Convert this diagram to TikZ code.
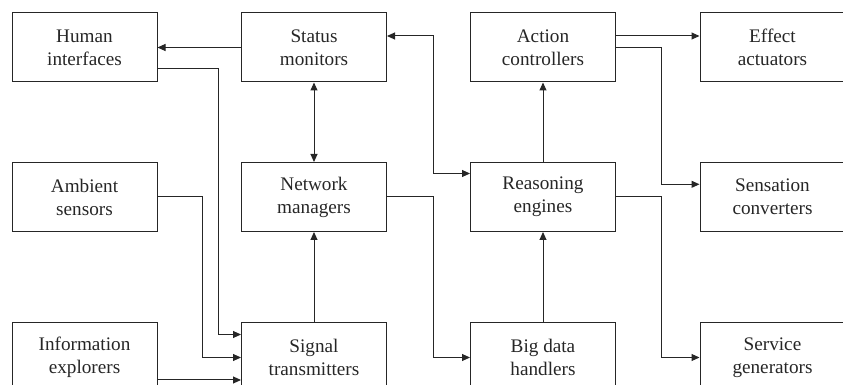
\documentclass[tikz,border=0pt]{standalone}
\usepackage{fontspec}
\setmainfont{Liberation Serif}
\usetikzlibrary{calc,arrows.meta}

\tikzset{
  unit/.style={draw=black!85,line width=0.5pt,minimum width=72.5pt,minimum height=34.5pt,
    inner sep=1pt,align=center,text=black!85,font=\fontsize{9.6}{11.5}\selectfont},
  link/.style={draw=black!85,line width=0.5pt,-{Triangle[length=4pt,width=3.5pt]}},
  dlink/.style={draw=black!85,line width=0.5pt,{Triangle[length=4pt,width=3.5pt]}-{Triangle[length=4pt,width=3.5pt]}}
}

\begin{document}
\begin{tikzpicture}[x=0.5pt,y=-0.5pt]
       \path[use as bounding box,clip](0,0)rectangle(843,385);%frame

       \node[unit](hum)at(84.5,47.5){Human\\interfaces};%row 1
       \node[unit](sta)at(314,47.5){Status\\monitors};
       \node[unit](act)at(543,47.5){Action\\controllers};
       \node[unit](eff)at(772.5,47.5){Effect\\actuators};

       \node[unit](amb)at(84.5,197){Ambient\\sensors};%row 2
       \node[unit](net)at(314,197){Network\\managers};
       \node[unit](rea)at(543,197){Reasoning\\engines};
       \node[unit](sen)at(772.5,197){Sensation\\converters};

       \node[unit](inf)at(84.5,357.5){Information\\explorers};%row 3
       \node[unit](sig)at(314,357.5){Signal\\transmitters};
       \node[unit](big)at(543,357.5){Big data\\handlers};
       \node[unit](ser)at(772.5,357.5){Service\\generators};

       \coordinate(c1)at(218.3,0);%bend columns
       \coordinate(c2)at(202.7,0);
       \coordinate(c3)at(433.3,0);
       \coordinate(c4)at(661,0);

       \coordinate(hp)at([yshift=-10.4pt]hum.east);%ports
       \coordinate(s1)at([yshift=11.5pt]sig.west);
       \coordinate(s3)at([yshift=-11.25pt]sig.west);
       \coordinate(sp)at([yshift=5.75pt]sta.east);
       \coordinate(rp)at([yshift=11.75pt]rea.west);
       \coordinate(np)at([yshift=6.35pt]sen.west);

       \draw[link](sta)--(hum);
       \draw[link](hp)-|(c1|-s1)--(s1);
       \draw[link](amb.east)-|(c2|-sig.west)--(sig.west);
       \draw[link]([yshift=-11.25pt]inf.east)--(s3);
       \draw[link](sig)--(net);
       \draw[dlink](sta)--(net);
       \draw[link](net.east)-|(c3|-big.west)--(big.west);
       \draw[dlink](sp)-|(c3|-rp)--(rp);
       \draw[link](big)--(rea);
       \draw[link](rea)--(act);
       \draw[link]([yshift=5.75pt]act.east)--([yshift=5.75pt]eff.west);
       \draw[link](act.east)-|(c4|-np)--(np);
       \draw[link](rea.east)-|(c4|-ser.west)--(ser.west);

      \end{tikzpicture}
\end{document}
